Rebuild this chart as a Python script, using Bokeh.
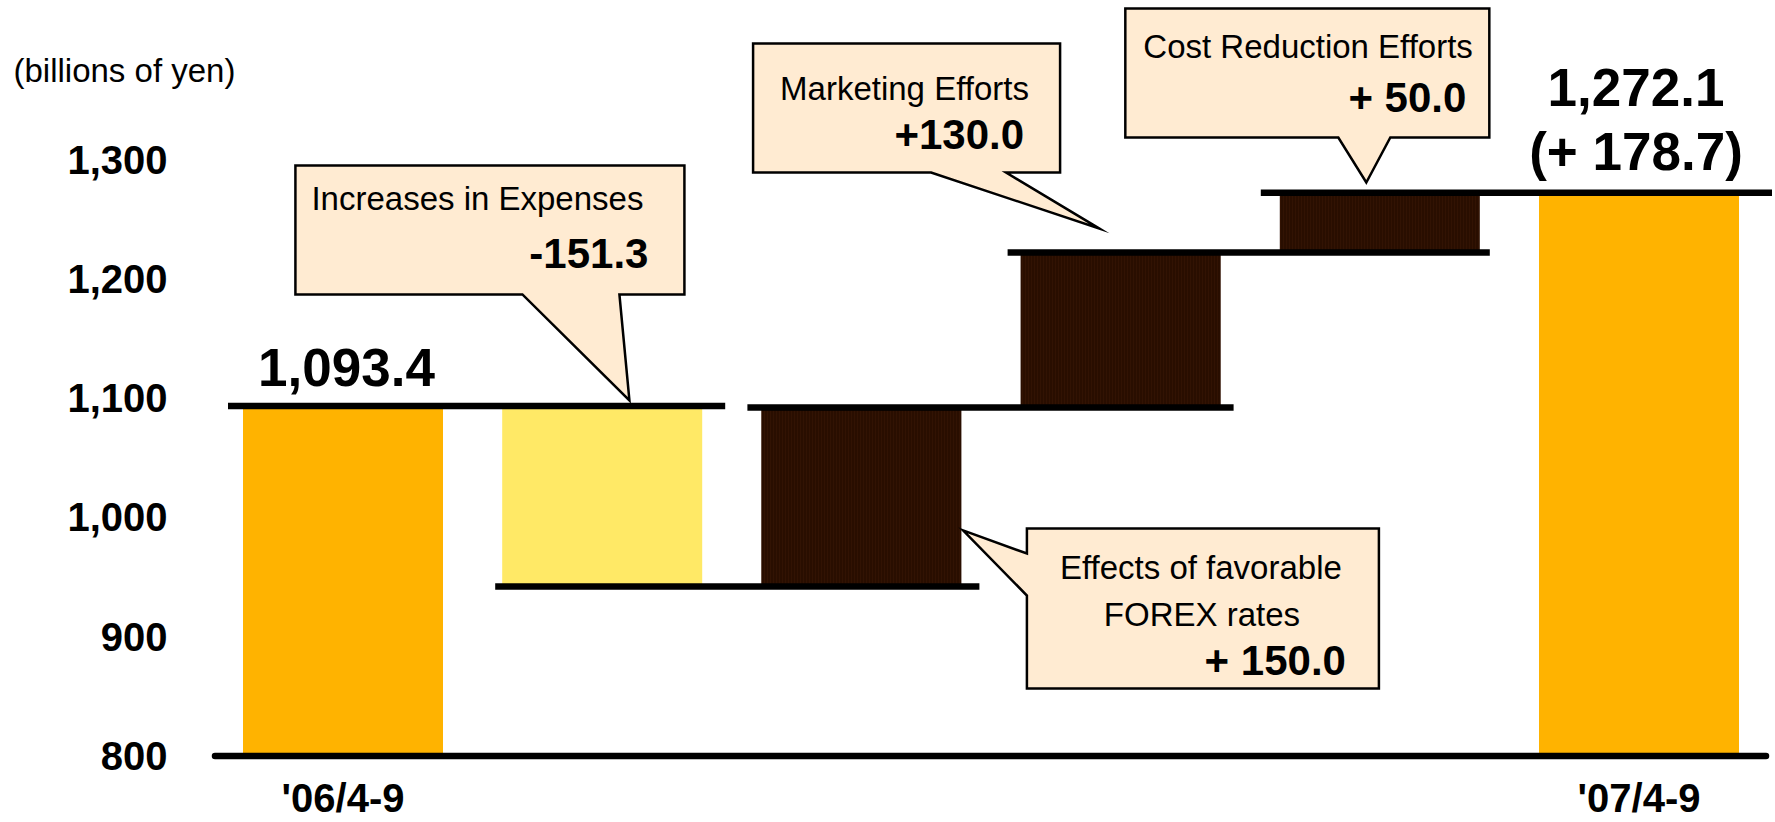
from bokeh.plotting import figure
from bokeh.models import Range1d, FixedTicker, NumeralTickFormatter, Label
from bokeh.core.properties import value
from bokeh.embed import file_html
from bokeh.resources import INLINE

# ---------------- data ----------------
categories = ["'06/4-9", "Increases in Expenses", "Effects of favorable FOREX rates",
              "Marketing Efforts", "Cost Reduction Efforts", "'07/4-9"]
start_total = 1093.4
changes = [-151.3, 150.0, 130.0, 50.0]
end_total = 1272.1
change_labels = ["-151.3", "+ 150.0", "+130.0", "+ 50.0"]
total_labels = ["1,093.4", "1,272.1", "(+ 178.7)"]
y_ticks = [800, 900, 1000, 1100, 1200, 1300]
x_tick_labels = ["'06/4-9", "'07/4-9"]
unit_label = "(billions of yen)"
base_value = 800

# ---------------- geometry / styles ----------------
W, H = 1775, 822
PX = 259.2            # px per category
PY = 1.193            # px per billion yen
X0_PX, Y800_PX = 342.5, 755.5   # screen position of first category centre / 800 level
x_start = -X0_PX / PX
x_end = x_start + W / PX
y_end = base_value + Y800_PX / PY
y_start = y_end - H / PY
BAR_W = 200 / PX
AXIS_X = x_start + 211 / PX

ORANGE = "#FFB300"
YELLOW = "#FFE966"
DARK = "#290E00"
CALLOUT = "#FFEBD2"
SANS = value("Liberation Sans")

levels = [start_total]
for c in changes:
    levels.append(round(levels[-1] + c, 1))

xs = list(range(len(categories)))
bottoms = [base_value] + [min(levels[i], levels[i + 1]) for i in range(len(changes))] + [base_value]
tops = [start_total] + [max(levels[i], levels[i + 1]) for i in range(len(changes))] + [end_total]
colors = [ORANGE, YELLOW, DARK, DARK, DARK, ORANGE]

p = figure(width=W, height=H, x_range=Range1d(x_start, x_end), y_range=Range1d(y_start, y_end),
           x_axis_location=None, toolbar_location=None, output_backend="svg",
           min_border_left=0, min_border_right=0, min_border_top=0, min_border_bottom=0)
p.grid.visible = False
p.outline_line_color = None
p.background_fill_color = "white"

yax = p.yaxis[0]
yax.fixed_location = AXIS_X
yax.ticker = FixedTicker(ticks=y_ticks)
yax.formatter = NumeralTickFormatter(format="0,0")
yax.axis_line_color = None
yax.major_tick_line_color = None
yax.minor_tick_line_color = None
yax.major_tick_out = 0
yax.major_tick_in = 0
yax.major_label_standoff = 44
yax.major_label_text_font = "Liberation Sans"
yax.major_label_text_font_style = "bold"
yax.major_label_text_font_size = "40px"
yax.major_label_text_color = "black"

# bars
light = [i for i, c in enumerate(colors) if c != DARK]
dark = [i for i, c in enumerate(colors) if c == DARK]
p.vbar(x=[xs[i] for i in light], width=BAR_W, bottom=[bottoms[i] for i in light],
       top=[tops[i] for i in light], fill_color=[colors[i] for i in light], line_color=None)
p.vbar(x=[xs[i] for i in dark], width=BAR_W, bottom=[bottoms[i] for i in dark],
       top=[tops[i] for i in dark], fill_color=DARK, line_color=None,
       hatch_pattern="|", hatch_color="#3A1805", hatch_scale=3, hatch_weight=1, hatch_alpha=0.55)

# connector lines
ext_l = [15, 7, 14, 13, 19]
ext_r = [23, 18, 13, 10, 33]
x0s, x1s, ys = [], [], []
for k, lv in enumerate(levels):
    x0s.append(xs[k] - BAR_W / 2 - ext_l[k] / PX)
    x1s.append(xs[k + 1] + BAR_W / 2 + ext_r[k] / PX)
    ys.append(lv)
p.segment(x0=x0s, y0=ys, x1=x1s, y1=ys, line_color="black", line_width=6.5, line_cap="butt")

# base line
p.segment(x0=[xs[0] - BAR_W / 2 - 28 / PX], y0=[base_value], x1=[xs[-1] + BAR_W / 2 + 27 / PX],
          y1=[base_value], line_color="black", line_width=6.5, line_cap="round")

# category labels
p.text(x=[xs[0], xs[-1]], y=[base_value - 41.5 / PY] * 2, text=x_tick_labels,
       text_font=SANS, text_font_style="bold", text_font_size="40px",
       text_align="center", text_baseline="middle", text_color="black")

# total labels
p.text(x=[xs[0] + 3.5 / PX], y=[start_total + 38 / PY], text=[total_labels[0]],
       text_font=SANS, text_font_style="bold", text_font_size="53px",
       text_align="center", text_baseline="middle", text_color="black")
p.text(x=[xs[-1] - 3 / PX] * 2, y=[end_total + 105 / PY, end_total + 40.8 / PY],
       text=total_labels[1:], text_font=SANS, text_font_style="bold", text_font_size="53px",
       text_align="center", text_baseline="middle", text_color="black")

# callouts: anchor (data), polygon offsets in px (dx right, dy up), texts (cap-centre offsets)
callouts = [
    dict(anchor=(1 + 0.105, levels[0]),
         poly=[(0, 5.5), (-10, 111.5), (55, 111.5), (55, 240.5), (-334, 240.5), (-334, 111.5), (-107, 111.5)],
         texts=[(categories[1], -318, 207.5, "left", "normal"), (change_labels[0], 19, 152.5, "right", "bold")]),
    dict(anchor=(2 + 0.392, 990),
         poly=[(0, -1), (63.9, -24.2), (63.9, 0.8), (415.9, 0.8), (415.9, -159.2), (63.9, -159.2), (63.9, -66.2)],
         texts=[("Effects of favorable", 237.9, -38.2, "center", "normal"),
                ("FOREX rates", 238.9, -85.2, "center", "normal"),
                (change_labels[1], 382.9, -131.2, "right", "bold")]),
    dict(anchor=(3 - 0.083, levels[3]),
         poly=[(0, 24), (-93, 79.9), (-39, 79.9), (-39, 208.9), (-346, 208.9), (-346, 79.9), (-168, 79.9)],
         texts=[(categories[3], -319, 164.4, "left", "normal"), (change_labels[2], -75, 118.4, "right", "bold")]),
    dict(anchor=(4 - 0.052, levels[4]),
         poly=[(0, 10.3), (24, 55.3), (123, 55.3), (123, 184.3), (-241, 184.3), (-241, 55.3), (-28, 55.3)],
         texts=[(categories[4], -223, 145.8, "left", "normal"), (change_labels[3], 100, 95.3, "right", "bold")]),
]

pxs, pys = [], []
for c in callouts:
    ax, ay = c["anchor"]
    pxs.append([ax + dx / PX for dx, dy in c["poly"]])
    pys.append([ay + dy / PY for dx, dy in c["poly"]])
p.patches(xs=pxs, ys=pys, fill_color=CALLOUT, line_color="black", line_width=2.5, line_join="miter")

for c in callouts:
    ax, ay = c["anchor"]
    for txt, dx, dy, align, style in c["texts"]:
        bold = style == "bold"
        p.text(x=[ax + dx / PX], y=[ay + dy / PY], text=[txt], text_font=SANS,
               text_font_style=style, text_font_size="42px" if bold else "33px",
               text_align=align, text_baseline="middle", text_color="black")

# unit label
p.add_layout(Label(x=x_start + 13 / PX, y=base_value + (Y800_PX - 70) / PY, text=unit_label,
                   text_font="Liberation Sans", text_font_size="33px", text_align="left",
                   text_baseline="middle", text_color="black"))

open("out.html", "w").write(file_html(p, INLINE))
